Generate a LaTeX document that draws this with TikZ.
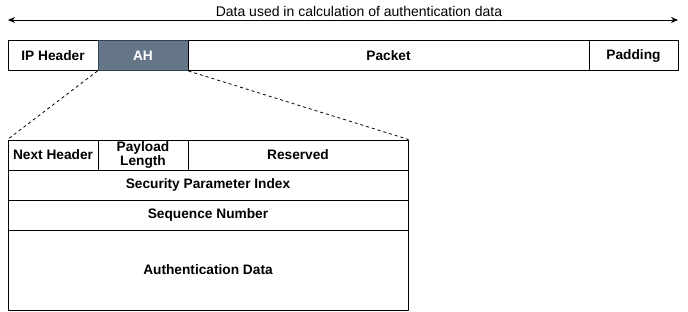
\documentclass[tikz,border=0pt]{standalone}
\usepackage{fontspec}
\setmainfont{Liberation Sans}
\usetikzlibrary{arrows.meta}
\definecolor{ahfill}{HTML}{647687}
\definecolor{ahline}{HTML}{314354}
\tikzset{
  cell/.style={draw, line width=1pt, inner sep=0pt, minimum height=30pt, align=center},
  ahcell/.style={cell, fill=ahfill, draw=ahline, text=white},
  zoomline/.style={line width=0.8pt, dash pattern=on 3pt off 3pt}
}
\begin{document}
\begin{tikzpicture}[x=1pt, y=-1pt, font=\bfseries\fontsize{13.7}{13.5}\selectfont, line join=round, >={Stealth[length=7pt,width=6pt]}]
	\useasboundingbox (0,0) rectangle (688,311);
	% Paket oben
	\node[cell, minimum width=90pt] (iph) at (53,55.5) {IP Header};
	\node[ahcell, minimum width=90pt] (ah) at (143,55.5) {AH};
	\node[cell, minimum width=401pt] (pkt) at (388.5,55.5) {Packet};
	\node[cell, minimum width=89pt] (pad) at (633.5,55.5) {Padding};
	% Pfeil ueber dem Paket
	\coordinate (al) at (8,20);
	\coordinate (ar) at (678,20);
	\draw[<->, line width=0.8pt] (al) -- (ar);
	\node[font=\fontsize{14}{16}\selectfont] (lbl) at (359,11.5) {Data used in calculation of authentication data};
	% AH-Kopf aufgeklappt
	\node[cell, minimum width=90pt] (nh) at (53,155) {Next Header};
	\node[cell, minimum width=90pt] (pl) at (143,155) {Payload\\Length};
	\node[cell, minimum width=220pt] (rsv) at (298,155) {Reserved};
	\node[cell, minimum width=400pt] (spi) at (208,185) {Security Parameter Index};
	\node[cell, minimum width=400pt] (seq) at (208,215) {Sequence Number};
	\node[cell, minimum width=400pt, minimum height=80pt] (auth) at (208,270) {Authentication Data};
	\draw[zoomline] (ah.south west) -- (nh.north west)
		(ah.south east) -- (rsv.north east);
\end{tikzpicture}
\end{document}
